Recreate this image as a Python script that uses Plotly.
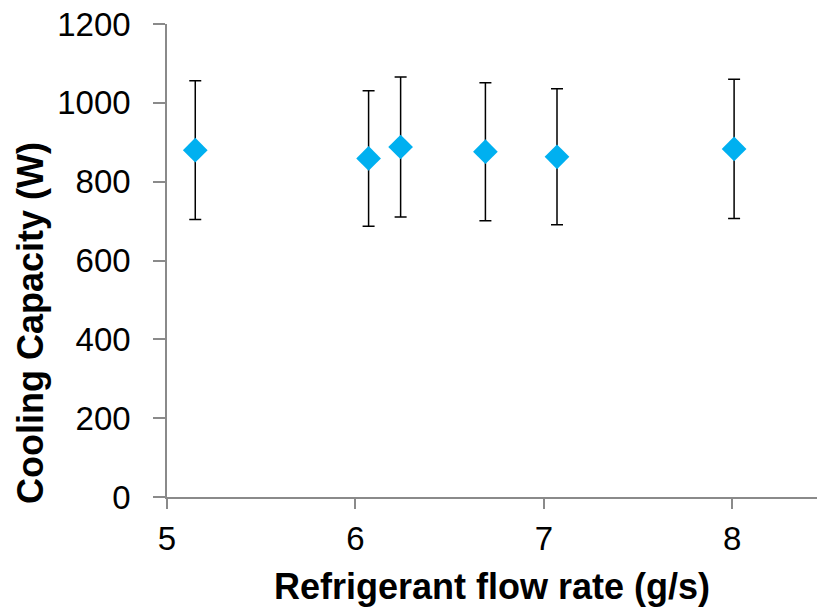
import plotly.graph_objects as go

# Measured cooling capacity vs refrigerant mass flow rate
flow_rate = [5.15, 6.07, 6.24, 6.69, 7.07, 8.01]          # g/s
cooling_capacity = [880, 859, 888, 876, 863, 883]         # W
uncertainty_pct = 20                                      # ± % error bars

x_ticks = [5, 6, 7, 8]
y_ticks = [0, 200, 400, 600, 800, 1000, 1200]

FONT = "Arial, Liberation Sans, sans-serif"
AXIS_GREY = "#8a8a8a"

fig = go.Figure(
    go.Scatter(
        x=flow_rate,
        y=cooling_capacity,
        mode="markers",
        marker=dict(symbol="diamond", size=19, color="#00B0F0", line=dict(width=0)),
        error_y=dict(type="percent", value=uncertainty_pct, color="black",
                     thickness=1.5, width=6),
        showlegend=False,
    )
)

W, H = 817, 611
ml, mr, mt, mb = 167, 0, 24, 114

fig.update_layout(
    width=W, height=H,
    margin=dict(l=ml, r=mr, t=mt, b=mb, pad=0),
    paper_bgcolor="white", plot_bgcolor="white",
    font=dict(family=FONT, color="black"),
    xaxis=dict(
        range=[5, 8.45], tickvals=x_ticks, showgrid=False, zeroline=False,
        showline=True, linecolor=AXIS_GREY, linewidth=1.5,
        ticks="outside", ticklen=10, tickwidth=1.5, tickcolor=AXIS_GREY,
        tickfont=dict(size=33, color="black"), ticklabelstandoff=2,
    ),
    yaxis=dict(
        range=[0, 1200], tickvals=y_ticks, showgrid=False, zeroline=False,
        showline=True, linecolor=AXIS_GREY, linewidth=1.5,
        ticks="outside", ticklen=12, tickwidth=1.5, tickcolor=AXIS_GREY,
        tickfont=dict(size=33, color="black"), ticklabelstandoff=16,
    ),
    annotations=[
        dict(text="<b>Refrigerant flow rate (g/s)</b>", xref="paper", yref="paper",
             x=0.5, y=-(586 - (H - mb)) / (H - mt - mb), xanchor="center", yanchor="middle",
             showarrow=False, font=dict(size=36, family=FONT, color="black")),
        dict(text="<b>Cooling Capacity (W)</b>", xref="paper", yref="paper",
             x=-(ml - 30) / (W - ml - mr), y=((H - mb) - 323) / (H - mt - mb),
             xanchor="center", yanchor="middle", textangle=-90,
             showarrow=False, font=dict(size=36, family=FONT, color="black")),
    ],
)

fig.write_html("out.html")
